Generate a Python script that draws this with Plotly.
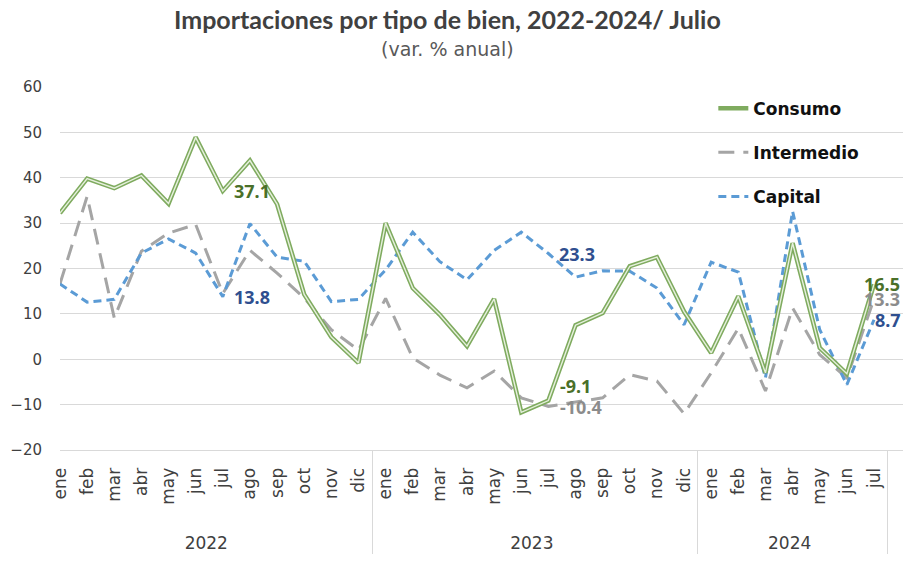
import plotly.graph_objects as go

years = ["2022"] * 12 + ["2023"] * 12 + ["2024"] * 7
months = ["ene", "feb", "mar", "abr", "may", "jun", "jul", "ago", "sep", "oct", "nov", "dic"] * 2 + \
         ["ene", "feb", "mar", "abr", "may", "jun", "jul"]

consumo = [32.2, 39.8, 37.7, 40.5, 34.3, 48.9, 37.1, 43.8, 34.2, 14.3, 4.9, -0.8,
           30.0, 15.7, 9.8, 2.9, 13.3, -11.7, -9.1, 7.5, 10.2, 20.5, 22.5, 10.5,
           1.4, 13.9, -3.0, 25.6, 2.5, -3.2, 16.5]
intermedio = [16.6, 35.9, 9.1, 23.8, 27.8, 29.7, 14.5, 24.0, 19.0, 13.5, 6.5, 2.0,
              13.4, 0.3, -3.5, -6.3, -2.6, -8.5, -10.4, -9.5, -8.5, -3.4, -4.8, -12.0,
              -3.0, 6.8, -7.0, 11.3, 1.0, -4.1, 13.3]
capital = [16.6, 12.6, 13.2, 23.4, 26.5, 23.4, 13.8, 29.9, 22.5, 21.6, 12.7, 13.2,
           19.7, 28.0, 21.5, 17.5, 24.0, 28.0, 23.3, 18.1, 19.5, 19.4, 15.7, 7.6,
           21.4, 19.2, -4.1, 32.6, 6.5, -5.6, 8.7]

NB = "\u00a0"
# pad month labels so the years sit lower
month_labels = [NB * 4 + m for m in months]
x = [years, month_labels]

fig = go.Figure()
fig.add_trace(go.Scatter(x=x, y=intermedio, name="Intermedio", mode="lines",
                         line=dict(color="#a5a5a5", width=3, dash="16px,9px"),
                         legendgroup="b", legendrank=2))
fig.add_trace(go.Scatter(x=x, y=capital, name="Capital", mode="lines",
                         line=dict(color="#5b9bd5", width=3, dash="8px,5px"),
                         legendgroup="c", legendrank=3))
fig.add_trace(go.Scatter(x=x, y=consumo, name="Consumo", mode="lines",
                         line=dict(color="#7fab5f", width=4.5),
                         legendgroup="a", legendrank=1))
fig.add_trace(go.Scatter(x=x, y=consumo, name="Consumo", mode="lines",
                         line=dict(color="#e6f0dd", width=1.4),
                         legendgroup="a", showlegend=False))

# data labels for July values
jul_idx = [i for i, m in enumerate(months) if m == "jul"]
label_specs = [
    (consumo, "#4a7029", {0: (9, 0), 1: (10, 15), 2: (-12, 0)}),
    (intermedio, "#8c8c8c", {1: (10, -1), 2: (-12, 0)}),
    (capital, "#2f4f8f", {0: (9, 0), 1: (9, 0), 2: (-1, 0)}),
]
for series, col, spec in label_specs:
    for k, (dx, dy) in spec.items():
        i = jul_idx[k]
        v = series[i]
        fig.add_annotation(x=i, y=v, text=f"{v:.1f}", showarrow=False,
                           xanchor="left", yanchor="middle", xshift=dx, yshift=dy,
                           font=dict(family="Noto Sans", size=18, color=col, weight="bold"))

# title and subtitle
fig.add_annotation(text="<b>Importaciones por tipo de bien, 2022-2024/ Julio</b>",
                   xref="paper", yref="paper", x=0.46, y=1.186, showarrow=False,
                   xanchor="center", yanchor="middle",
                   font=dict(family="Lato", size=25, color="#404040"))
fig.add_annotation(text="(var. % anual)",
                   xref="paper", yref="paper", x=0.46, y=1.106, showarrow=False,
                   xanchor="center", yanchor="middle",
                   font=dict(family="DejaVu Sans", size=19, color="#595959"))

fig.update_layout(
    width=915, height=561,
    margin=dict(l=52, r=20, t=79, b=119),
    paper_bgcolor="white", plot_bgcolor="white",
    legend=dict(x=0.775, y=0.99, xanchor="left", yanchor="top",
                font=dict(family="DejaVu Sans", size=17, color="#111111", weight="bold"),
                tracegroupgap=19, bgcolor="rgba(0,0,0,0)"),
    showlegend=True,
)
fig.update_yaxes(range=[-20, 60], dtick=10, showgrid=True, gridcolor="#d9d9d9", gridwidth=1,
                 zeroline=False, showline=False, ticks="outside", ticklen=14,
                 tickcolor="rgba(0,0,0,0)", automargin=False,
                 tickfont=dict(family="DejaVu Sans", size=15, color="#404040"))
fig.update_xaxes(type="multicategory", showgrid=False, showline=True, linecolor="#d9d9d9",
                 linewidth=1, tickangle=-90, ticks="", showdividers=True,
                 dividercolor="#d9d9d9", dividerwidth=1, automargin=False,
                 ticklabelstandoff=10,
                 tickfont=dict(family="DejaVu Sans", size=17, color="#404040"))

fig.write_html("out.html")
